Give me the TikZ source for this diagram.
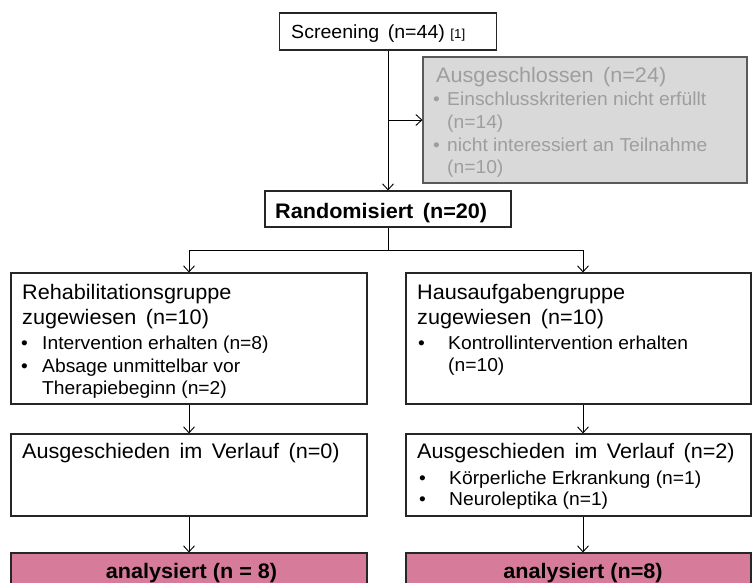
\documentclass[tikz,border=0pt]{standalone}
\usepackage{fontspec}
\setmainfont{Liberation Sans}[FakeStretch=1.03]
\usetikzlibrary{arrows.meta}
\definecolor{pinkfill}{RGB}{214,124,154}
\definecolor{grayfill}{RGB}{217,217,217}
\definecolor{graytext}{RGB}{158,158,158}
\definecolor{grayline}{RGB}{90,90,90}
\newcommand\wsp{\hspace{0.45em}}
\begin{document}
\begin{tikzpicture}[x=1pt,y=-1pt,
  box/.style={draw=black!85, line width=1.1pt, rectangle, inner sep=0pt},
  conn/.style={line width=0.9pt, black},
  arr/.style={conn, -{Straight Barb[length=6pt,width=11pt,line width=0.9pt]}},
  big/.style={font=\fontsize{21}{25}\selectfont, inner sep=0pt, anchor=base west},
  bigb/.style={font=\bfseries\fontsize{21}{25}\selectfont, inner sep=0pt, anchor=base},
  small/.style={font=\fontsize{18.7}{22}\selectfont, inner sep=0pt, anchor=base west},
]
\useasboundingbox (0,0) rectangle (752,583);
\clip (0,0) rectangle (752,583);
\fill[white] (0,0) rectangle (752,583);

% boxes
\node[box, minimum width=217pt, minimum height=37pt] (scr) at (388,31.5) {};
\node[box, draw=grayline, fill=grayfill, minimum width=324pt, minimum height=126pt] (excl) at (585,120) {};
\node[box, minimum width=246pt, minimum height=36pt] (rand) at (388,209) {};
\node[box, minimum width=356pt, minimum height=131pt] (lb1) at (189,338.5) {};
\node[box, minimum width=345pt, minimum height=131pt] (rb1) at (578.5,338.5) {};
\node[box, minimum width=356pt, minimum height=82pt] (lb2) at (189,475) {};
\node[box, minimum width=345pt, minimum height=82pt] (rb2) at (578.5,475) {};
\node[box, fill=pinkfill, minimum width=356pt, minimum height=50pt] (lp) at (189,578) {};
\node[box, fill=pinkfill, minimum width=345pt, minimum height=50pt] (rp) at (578.5,578) {};

% connectors
\coordinate (j1) at (388,120);
\coordinate (br) at (388,250);
\draw[arr] (scr.south) -- (rand.north);
\draw[arr] (j1) -- (excl.west);
\draw[conn] (rand.south) -- (br);
\draw[arr] (br) -| (lb1.north);
\draw[arr] (br) -| ([xshift=4.5pt]rb1.north);
\draw[arr] (lb1.south) -- (lb2.north);
\draw[arr] ([xshift=4.5pt]rb1.south) -- ([xshift=4.5pt]rb2.north);
\draw[arr] (lb2.south) -- (lp.north);
\draw[arr] ([xshift=4.5pt]rb2.south) -- ([xshift=4.5pt]rp.north);

% texts
\node[big, font=\fontsize{19}{23}\selectfont] (tscr) at (291,39) {Screening\wsp(n=44) {\fontsize{13}{15}\selectfont[1]}};
\node[big, font=\bfseries\fontsize{21}{25}\selectfont] (trand) at (275,218) {Randomisiert\wsp(n=20)};

\node[big, text=graytext] (te1) at (436,83) {Ausgeschlossen\wsp(n=24)};
\node[small, text=graytext] (te2b) at (433,106) {•};
\node[small, text=graytext] (te2) at (447,106) {Einschlusskriterien nicht erfüllt};
\node[small, text=graytext] (te3) at (447,128.5) {(n=14)};
\node[small, text=graytext] (te4b) at (433,151) {•};
\node[small, text=graytext] (te4) at (447,151) {nicht interessiert an Teilnahme};
\node[small, text=graytext] (te5) at (447,173) {(n=10)};

\node[big] (tl1) at (22,299) {Rehabilitationsgruppe};
\node[big] (tl2) at (22,324) {zugewiesen\wsp(n=10)};
\node[small] (tl3b) at (21,349) {•};
\node[small] (tl3) at (42,349) {Intervention erhalten (n=8)};
\node[small] (tl4b) at (21,372) {•};
\node[small] (tl4) at (42,372) {Absage unmittelbar vor};
\node[small] (tl5) at (42,394) {Therapiebeginn (n=2)};

\node[big] (tr1) at (417,299) {Hausaufgabengruppe};
\node[big] (tr2) at (417,324) {zugewiesen\wsp(n=10)};
\node[small] (tr3b) at (418,349) {•};
\node[small] (tr3) at (448,349) {Kontrollintervention erhalten};
\node[small] (tr4) at (448,371) {(n=10)};

\node[big] (tl6) at (22,458) {Ausgeschieden\wsp im\wsp Verlauf\wsp(n=0)};
\node[big] (tr6) at (417,458) {Ausgeschieden\wsp im\wsp Verlauf\wsp(n=2)};
\node[small] (tr7b) at (419,484) {•};
\node[small] (tr7) at (449,484) {Körperliche Erkrankung (n=1)};
\node[small] (tr8b) at (419,505) {•};
\node[small] (tr8) at (449,505) {Neuroleptika (n=1)};

\node[bigb] (tlp) at (191.5,578) {analysiert (n = 8)};
\node[bigb] (trp) at (583,578) {analysiert (n=8)};
\end{tikzpicture}
\end{document}
